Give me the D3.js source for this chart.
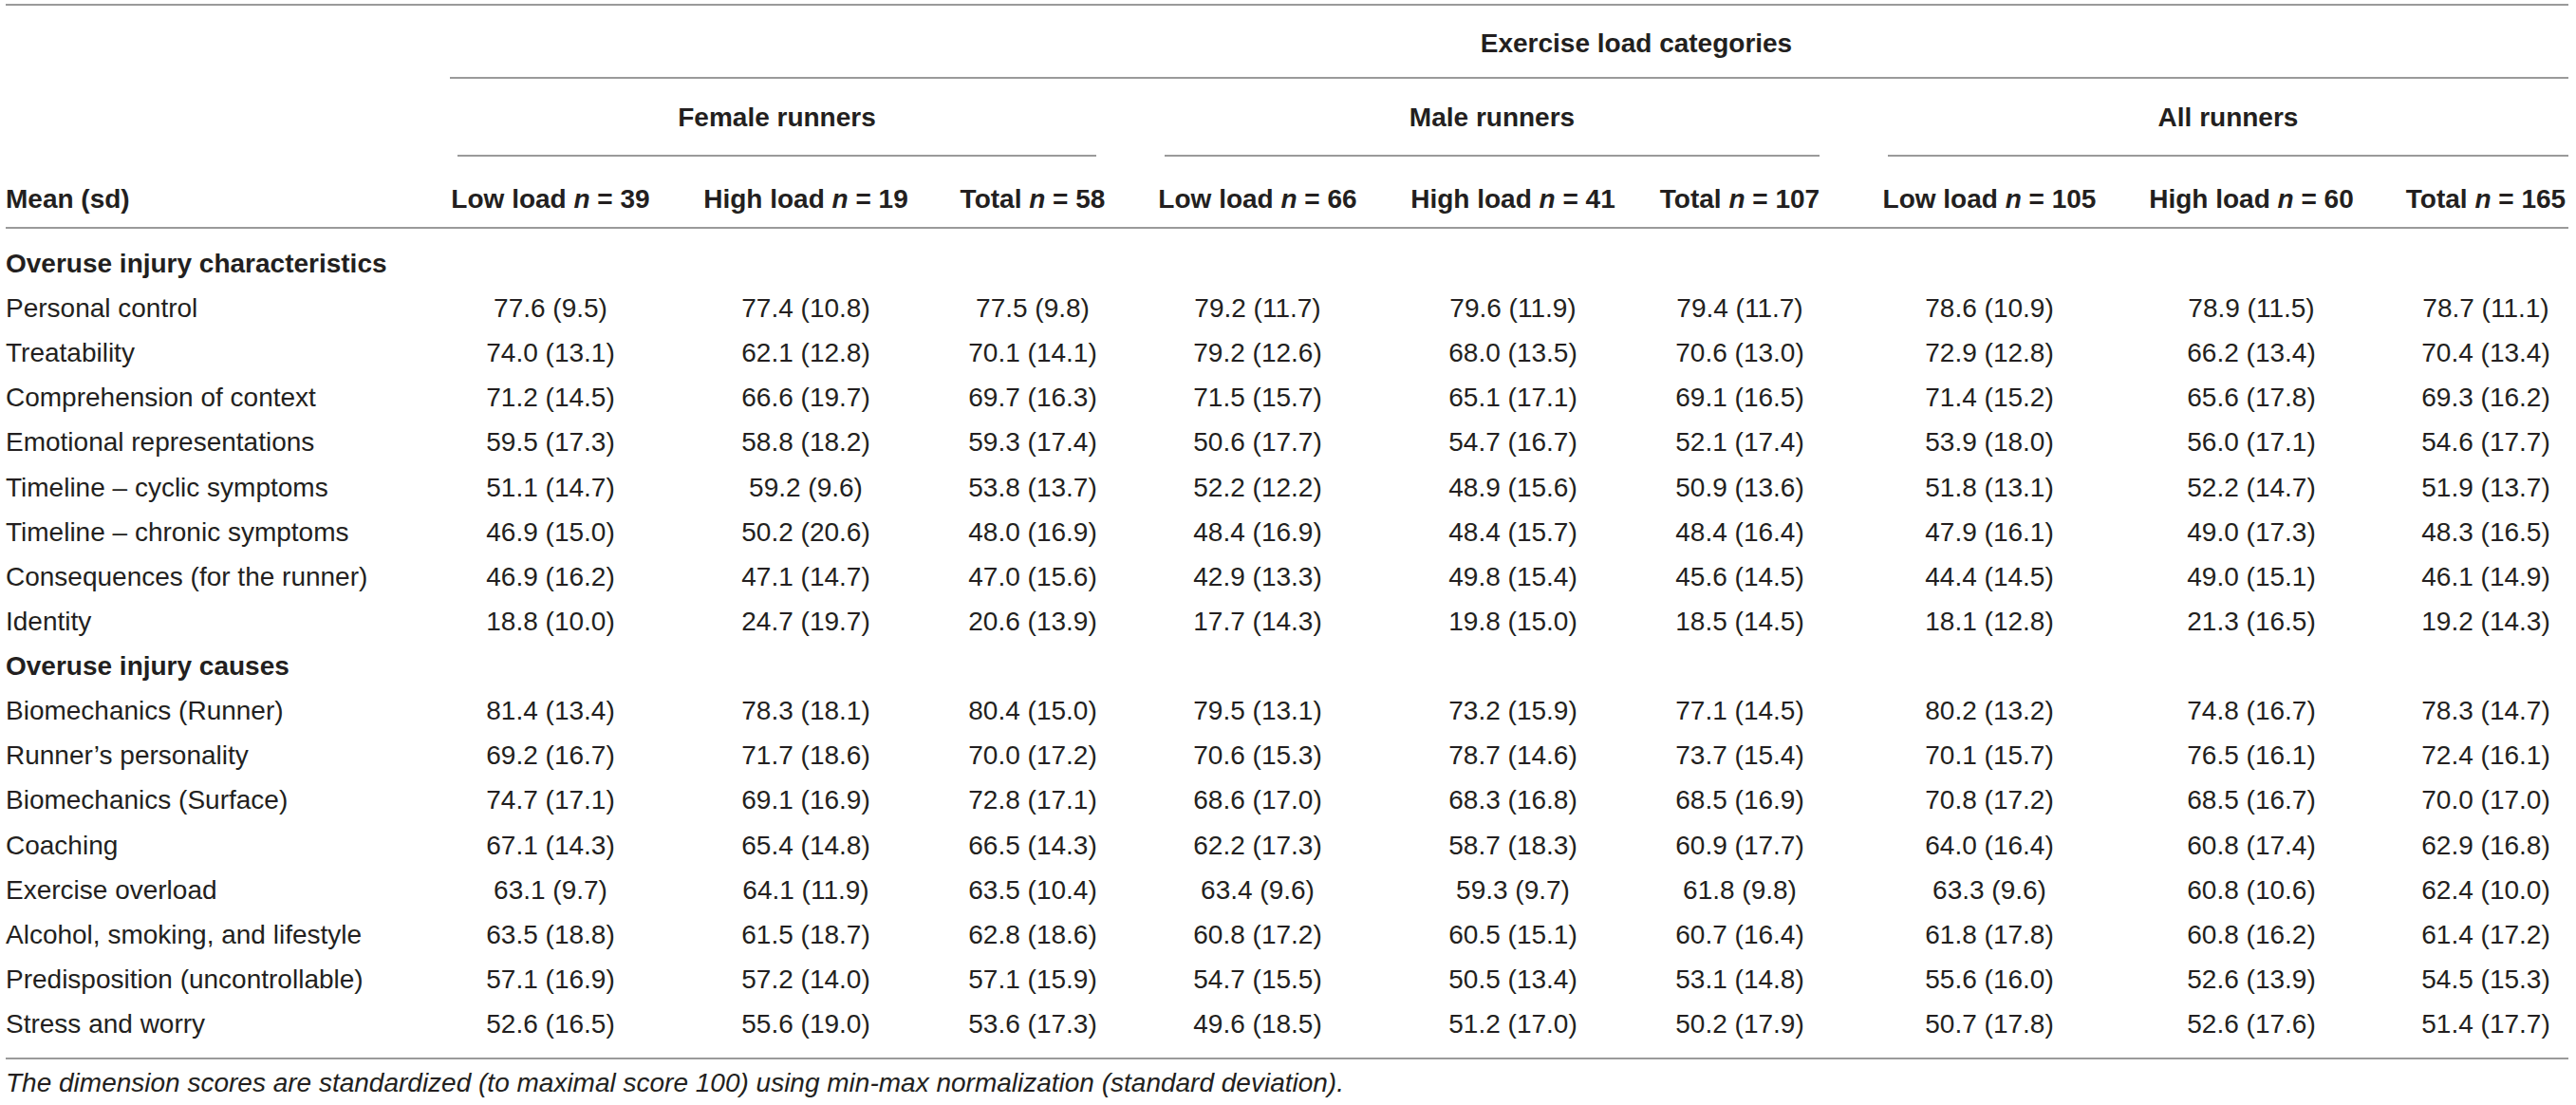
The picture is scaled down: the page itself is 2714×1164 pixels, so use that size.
<!DOCTYPE html>
<html>
<head>
<meta charset="utf-8">
<script src="https://cdn.jsdelivr.net/npm/d3@7"></script>
<style>
  body { margin: 0; background: #fff; }
  svg { display: block; font-family: "Liberation Sans", Arial, sans-serif; }
</style>
</head>
<body>
<svg id="chart" width="2714" height="1164"></svg>
<script>
// ---- data ----
const topHeader = "Exercise load categories";
const groups = ["Female runners", "Male runners", "All runners"];
const colLoads = ["Low load", "High load", "Total", "Low load", "High load", "Total", "Low load", "High load", "Total"];
const colN = [39, 19, 58, 66, 41, 107, 105, 60, 165];
const stubHeader = "Mean (sd)";

const sections = ["Overuse injury characteristics", "Overuse injury causes"];
const rowLabels = [
  ["Personal control", "Treatability", "Comprehension of context", "Emotional representations",
   "Timeline – cyclic symptoms", "Timeline – chronic symptoms", "Consequences (for the runner)", "Identity"],
  ["Biomechanics (Runner)", "Runner’s personality", "Biomechanics (Surface)", "Coaching",
   "Exercise overload", "Alcohol, smoking, and lifestyle", "Predisposition (uncontrollable)", "Stress and worry"]
];

// means per row, 9 columns
const means = [
  [77.6, 77.4, 77.5, 79.2, 79.6, 79.4, 78.6, 78.9, 78.7],
  [74.0, 62.1, 70.1, 79.2, 68.0, 70.6, 72.9, 66.2, 70.4],
  [71.2, 66.6, 69.7, 71.5, 65.1, 69.1, 71.4, 65.6, 69.3],
  [59.5, 58.8, 59.3, 50.6, 54.7, 52.1, 53.9, 56.0, 54.6],
  [51.1, 59.2, 53.8, 52.2, 48.9, 50.9, 51.8, 52.2, 51.9],
  [46.9, 50.2, 48.0, 48.4, 48.4, 48.4, 47.9, 49.0, 48.3],
  [46.9, 47.1, 47.0, 42.9, 49.8, 45.6, 44.4, 49.0, 46.1],
  [18.8, 24.7, 20.6, 17.7, 19.8, 18.5, 18.1, 21.3, 19.2],
  [81.4, 78.3, 80.4, 79.5, 73.2, 77.1, 80.2, 74.8, 78.3],
  [69.2, 71.7, 70.0, 70.6, 78.7, 73.7, 70.1, 76.5, 72.4],
  [74.7, 69.1, 72.8, 68.6, 68.3, 68.5, 70.8, 68.5, 70.0],
  [67.1, 65.4, 66.5, 62.2, 58.7, 60.9, 64.0, 60.8, 62.9],
  [63.1, 64.1, 63.5, 63.4, 59.3, 61.8, 63.3, 60.8, 62.4],
  [63.5, 61.5, 62.8, 60.8, 60.5, 60.7, 61.8, 60.8, 61.4],
  [57.1, 57.2, 57.1, 54.7, 50.5, 53.1, 55.6, 52.6, 54.5],
  [52.6, 55.6, 53.6, 49.6, 51.2, 50.2, 50.7, 52.6, 51.4]
];
const sds = [
  [9.5, 10.8, 9.8, 11.7, 11.9, 11.7, 10.9, 11.5, 11.1],
  [13.1, 12.8, 14.1, 12.6, 13.5, 13.0, 12.8, 13.4, 13.4],
  [14.5, 19.7, 16.3, 15.7, 17.1, 16.5, 15.2, 17.8, 16.2],
  [17.3, 18.2, 17.4, 17.7, 16.7, 17.4, 18.0, 17.1, 17.7],
  [14.7, 9.6, 13.7, 12.2, 15.6, 13.6, 13.1, 14.7, 13.7],
  [15.0, 20.6, 16.9, 16.9, 15.7, 16.4, 16.1, 17.3, 16.5],
  [16.2, 14.7, 15.6, 13.3, 15.4, 14.5, 14.5, 15.1, 14.9],
  [10.0, 19.7, 13.9, 14.3, 15.0, 14.5, 12.8, 16.5, 14.3],
  [13.4, 18.1, 15.0, 13.1, 15.9, 14.5, 13.2, 16.7, 14.7],
  [16.7, 18.6, 17.2, 15.3, 14.6, 15.4, 15.7, 16.1, 16.1],
  [17.1, 16.9, 17.1, 17.0, 16.8, 16.9, 17.2, 16.7, 17.0],
  [14.3, 14.8, 14.3, 17.3, 18.3, 17.7, 16.4, 17.4, 16.8],
  [9.7, 11.9, 10.4, 9.6, 9.7, 9.8, 9.6, 10.6, 10.0],
  [18.8, 18.7, 18.6, 17.2, 15.1, 16.4, 17.8, 16.2, 17.2],
  [16.9, 14.0, 15.9, 15.5, 13.4, 14.8, 16.0, 13.9, 15.3],
  [16.5, 19.0, 17.3, 18.5, 17.0, 17.9, 17.8, 17.6, 17.7]
];
const footnote = "The dimension scores are standardized (to maximal score 100) using min-max normalization (standard deviation).";

// ---- layout ----
const W = 2714, left = 6, right = 2706;
const fontSize = 28;
const textColor = "#231f20";
const lineColor = "#9a9a9a";
const colCenters = [580, 849, 1088, 1325, 1594, 1833, 2096, 2372, 2619];
const groupSpans = [[482, 1155], [1227, 1917], [1989, 2706]];
const baselineShift = 10;   // centre of caps -> baseline

const svg = d3.select("#chart");
const fmt = d3.format(".1f");

const cols = d3.range(colLoads.length);
const x = d3.scaleOrdinal().domain(cols).range(colCenters);

// body rows: section header + its rows
const bodyRows = [];
sections.forEach((s, si) => {
  bodyRows.push({type: "section", label: s});
  rowLabels[si].forEach(lbl => bodyRows.push({type: "data", label: lbl, idx: bodyRows.filter(r => r.type === "data").length}));
});
const y = d3.scaleLinear().domain([0, bodyRows.length - 1]).range([277, 1078]);

function hline(x1, x2, yy) {
  svg.append("line")
    .attr("x1", x1).attr("x2", x2)
    .attr("y1", yy).attr("y2", yy)
    .attr("stroke", lineColor)
    .attr("stroke-width", 2);
}

// rules
hline(left, right, 5);
hline(474, right, 82);
groupSpans.forEach(s => hline(s[0], s[1], 164));
hline(left, right, 240);
hline(left, right, 1115);

// top spanning header
svg.append("text")
  .attr("x", 1724).attr("y", 45 + baselineShift)
  .attr("text-anchor", "middle")
  .attr("font-size", fontSize).attr("font-weight", "bold")
  .attr("fill", textColor)
  .text(topHeader);

// group headers
svg.selectAll(".groupHead")
  .data(groups)
  .join("text")
  .classed("groupHead", true)
  .attr("x", (d, i) => (groupSpans[i][0] + groupSpans[i][1]) / 2)
  .attr("y", 123 + baselineShift)
  .attr("text-anchor", "middle")
  .attr("font-size", fontSize).attr("font-weight", "bold")
  .attr("fill", textColor)
  .text(d => d);

// column headers
svg.append("text")
  .attr("x", left).attr("y", 209 + baselineShift)
  .attr("font-size", fontSize).attr("font-weight", "bold")
  .attr("fill", textColor)
  .text(stubHeader);

const colHead = svg.selectAll(".colHead")
  .data(cols)
  .join("text")
  .classed("colHead", true)
  .attr("x", d => x(d))
  .attr("y", 209 + baselineShift)
  .attr("text-anchor", "middle")
  .attr("font-size", fontSize).attr("font-weight", "bold")
  .attr("fill", textColor);
colHead.append("tspan").text(d => colLoads[d] + " ");
colHead.append("tspan").attr("font-style", "italic").text("n");
colHead.append("tspan").text(d => " = " + colN[d]);

// body
const rowG = svg.selectAll(".row")
  .data(bodyRows)
  .join("g")
  .classed("row", true)
  .attr("transform", (d, i) => `translate(0,${y(i) + baselineShift})`);

rowG.append("text")
  .attr("x", left)
  .attr("font-size", fontSize)
  .attr("font-weight", d => d.type === "section" ? "bold" : "normal")
  .attr("fill", textColor)
  .text(d => d.label);

rowG.filter(d => d.type === "data")
  .selectAll(".cell")
  .data(d => cols.map(c => ({m: means[d.idx][c], s: sds[d.idx][c], c})))
  .join("text")
  .classed("cell", true)
  .attr("x", d => x(d.c))
  .attr("text-anchor", "middle")
  .attr("font-size", fontSize)
  .attr("fill", textColor)
  .text(d => `${fmt(d.m)} (${fmt(d.s)})`);

// footnote
svg.append("text")
  .attr("x", left).attr("y", 1140 + baselineShift)
  .attr("font-size", fontSize).attr("font-style", "italic")
  .attr("fill", textColor)
  .text(footnote);
</script>
</body>
</html>
